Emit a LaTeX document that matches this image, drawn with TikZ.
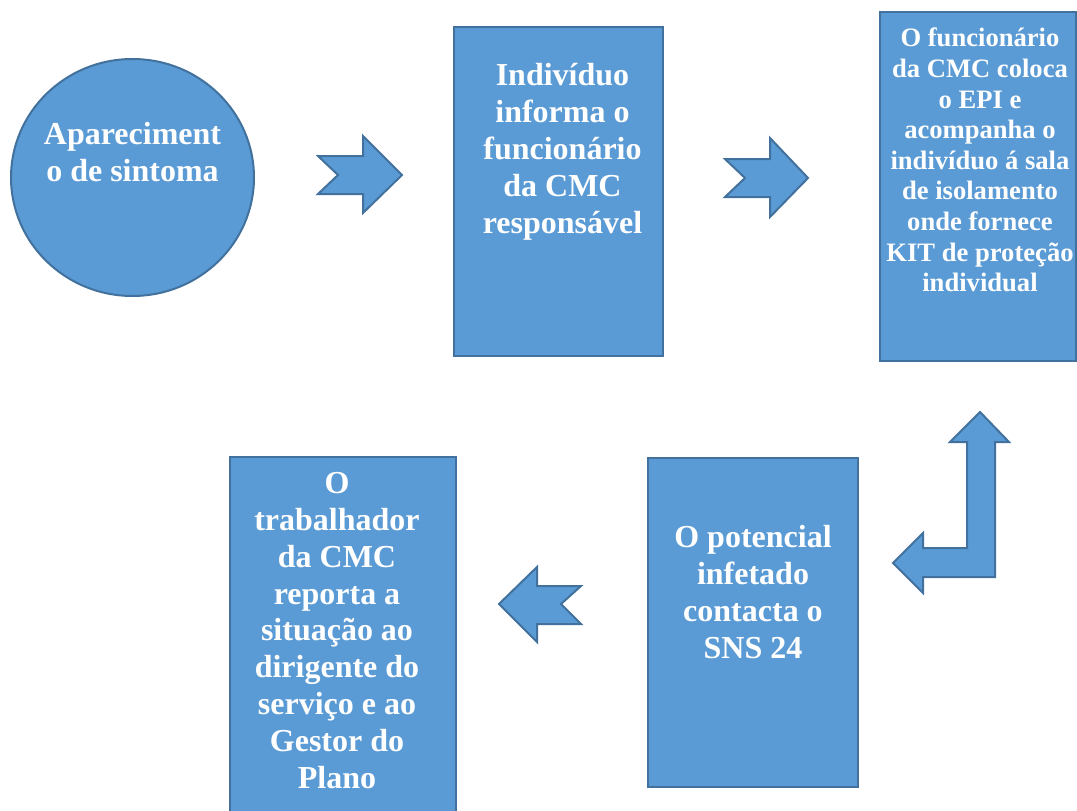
\documentclass[tikz,border=0pt]{standalone}
\usepackage{fontspec}
\setmainfont{Liberation Serif}
\usetikzlibrary{shapes.geometric}
\definecolor{boxfill}{HTML}{5B9BD5}
\definecolor{boxline}{HTML}{41719C}
\tikzset{
  shapebox/.style={draw=boxline, fill=boxfill, line width=2pt, inner sep=0pt, rectangle},
  blockarrow/.style={draw=boxline, fill=boxfill, line width=2pt, line join=miter},
  bigtext/.style={text=white, align=center, anchor=base, inner sep=0pt, font=\bfseries\fontsize{32}{36.8}\selectfont},
  smalltext/.style={text=white, align=center, anchor=base, inner sep=0pt, font=\bfseries\fontsize{26.6}{30.6}\selectfont}
}
\begin{document}
\begin{tikzpicture}[x=1pt, y=-1pt]
\useasboundingbox (0,0) rectangle (1077,811);
\clip (0,0) rectangle (1077,811);
% shapes
\node[shapebox, ellipse, minimum width=243pt, minimum height=237pt] (c1) at (132.5,177.5) {};
\node[shapebox, minimum width=209pt, minimum height=329pt] (r2) at (558.5,191.5) {};
\node[shapebox, minimum width=196pt, minimum height=349pt] (r3) at (978,186.5) {};
\node[shapebox, minimum width=210pt, minimum height=329pt] (r4) at (753,622.5) {};
\node[shapebox, minimum width=226pt, minimum height=380pt] (r5) at (343,647) {};
% block arrows
\draw[blockarrow] (318,156) -- (363,156) -- (363,136) -- (402,175) -- (363,213) -- (363,194) -- (318,194) -- (338,175) -- cycle;
\draw[blockarrow] (725,159) -- (770,159) -- (770,138) -- (808,178) -- (770,217) -- (770,197) -- (725,197) -- (745,178) -- cycle;
\draw[blockarrow] (499,604) -- (537,567) -- (537,586) -- (581,586) -- (561,604) -- (581,624) -- (537,624) -- (537,642) -- cycle;
\draw[blockarrow] (980,412) -- (1009,442) -- (995,442) -- (995,577) -- (923,577) -- (923,593) -- (893,563) -- (923,533) -- (923,548) -- (967,548) -- (967,442) -- (950,442) -- cycle;
% texts (anchor base = baseline of the last line)
\node[bigtext] (t1) at (132.5,181.7) {Apareciment\\o de sintoma};
\node[bigtext] (t2) at (562.5,233) {Indivíduo\\informa o\\funcionário\\da CMC\\responsável};
\node[smalltext] (t3) at (980,291.7) {O funcionário\\da CMC coloca\\o EPI e\\acompanha o\\indivíduo á sala\\de isolamento\\onde fornece\\KIT de proteção\\individual};
\node[bigtext] (t4) at (753,658) {O potencial\\infetado\\contacta o\\SNS 24};
\node[bigtext] (t5) at (337,788) {O\\trabalhador\\da CMC\\reporta a\\situação ao\\dirigente do\\serviço e ao\\Gestor do\\Plano};
\end{tikzpicture}
\end{document}
